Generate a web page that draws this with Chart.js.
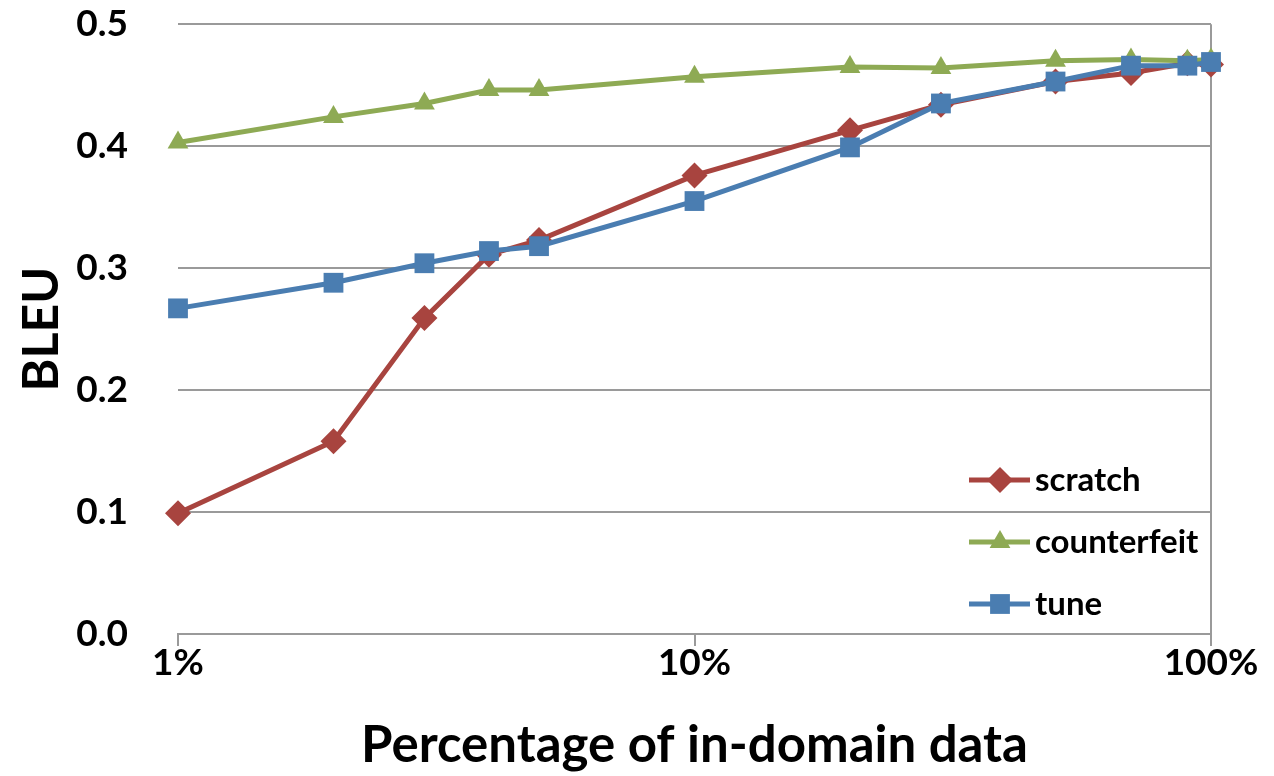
<!DOCTYPE html>
<html>
<head>
<meta charset="utf-8">
<script src="https://cdn.jsdelivr.net/npm/chart.js@4/dist/chart.umd.min.js"></script>
<style>
  html, body { margin: 0; padding: 0; background: #fff; }
  #wrap { width: 1274px; height: 776px; position: relative; }
</style>
</head>
<body>
<div id="wrap"><canvas id="myChart" width="1274" height="776"></canvas></div>
<script>
// percentage of in-domain data (x) and BLEU per series
var percents = [1, 2, 3, 4, 5, 10, 20, 30, 50, 70, 90, 100];
var scratch = [0.099, 0.158, 0.259, 0.311, 0.323, 0.376, 0.413, 0.434, 0.453, 0.460, 0.468, 0.467];
var counterfeit = [0.403, 0.424, 0.435, 0.446, 0.446, 0.457, 0.465, 0.464, 0.470, 0.471, 0.470, 0.471];
var tune = [0.267, 0.288, 0.304, 0.314, 0.318, 0.355, 0.399, 0.435, 0.453, 0.466, 0.466, 0.469];
var xTicks = [1, 10, 100];
var yTicks = [0, 0.1, 0.2, 0.3, 0.4, 0.5];

var FONT = 'Lato, "Open Sans", sans-serif';
var red = '#a8443f', green = '#8eaa54', blue = '#4a7db1';

function pts(ys) {
    return percents.map(function (p, i) { return { x: p, y: ys[i] }; });
}

// later series sit on top, like the original
var series = [
    { label: 'scratch', data: pts(scratch), color: red, style: 'rectRot', r: 13, order: 3 },
    { label: 'counterfeit', data: pts(counterfeit), color: green, style: 'triangle', r: 12, order: 2 },
    { label: 'tune', data: pts(tune), color: blue, style: 'rect', r: 14, order: 1 }
];

// legend drawn inside the plot area, bottom right
var insideLegend = {
    id: 'insideLegend',
    afterDraw: function (chart) {
        var c = chart.ctx;
        var rows = [480, 542, 604];
        c.save();
        chart.data.datasets.forEach(function (ds, i) {
            var y = rows[i];
            c.strokeStyle = ds.borderColor;
            c.lineWidth = 5;
            c.beginPath();
            c.moveTo(969, y);
            c.lineTo(1030, y);
            c.stroke();
            c.fillStyle = ds.backgroundColor;
            Chart.helpers.drawPoint(c, { pointStyle: ds.pointStyle, radius: ds.pointRadius, borderWidth: 0, rotation: 0 }, 1000, y);
            c.fillStyle = '#000';
            c.font = 'bold 33px ' + FONT;
            c.textBaseline = 'middle';
            c.textAlign = 'left';
            c.fillText(ds.label, 1035, y);
        });
        c.restore();
    }
};

var ctx = document.getElementById('myChart').getContext('2d');
var chart = new Chart(ctx, {
    type: 'line',
    data: {
        datasets: series.map(function (s) {
            return {
                label: s.label,
                data: s.data,
                borderColor: s.color,
                backgroundColor: s.color,
                borderWidth: 5,
                pointStyle: s.style,
                pointRadius: s.r,
                pointBorderWidth: 0,
                tension: 0,
                clip: false,
                order: s.order
            };
        })
    },
    options: {
        responsive: false,
        animation: false,
        layout: { padding: { top: 23, right: 63, left: 0, bottom: 0 } },
        plugins: { legend: { display: false }, tooltip: { enabled: false } },
        scales: {
            x: {
                type: 'logarithmic',
                min: 1,
                max: 100,
                afterBuildTicks: function (scale) {
                    scale.ticks = xTicks.map(function (v) { return { value: v }; });
                },
                afterFit: function (scale) { scale.height = 142; },
                ticks: {
                    autoSkip: false,
                    maxRotation: 0,
                    padding: 0,
                    color: '#000',
                    font: { family: FONT, size: 37, weight: 'bold', lineHeight: 0.9 },
                    callback: function (v) { return v + '%'; }
                },
                grid: {
                    color: function (c) { return c.tick && c.tick.value === 100 ? '#9a9a9a' : 'rgba(0,0,0,0)'; },
                    tickColor: '#9a9a9a',
                    tickLength: 12,
                    lineWidth: 2
                },
                border: { color: '#9a9a9a', width: 2 },
                title: {
                    display: true,
                    text: 'Percentage of in-domain data',
                    color: '#000',
                    font: { family: FONT, size: 51, weight: 'bold' },
                    padding: { top: 0, bottom: 0 }
                }
            },
            y: {
                min: 0,
                max: 0.5,
                afterBuildTicks: function (scale) {
                    scale.ticks = yTicks.map(function (v) { return { value: v }; });
                },
                afterFit: function (scale) { scale.width = 178; },
                ticks: {
                    padding: 2,
                    color: '#000',
                    font: { family: FONT, size: 37, weight: 'bold' },
                    callback: function (v) { return Number(v).toFixed(1); }
                },
                grid: { color: '#9a9a9a', lineWidth: 2, drawTicks: true, tickLength: 48, tickColor: 'rgba(0,0,0,0)' },
                border: { display: false },
                title: {
                    display: true,
                    text: 'BLEU',
                    color: '#000',
                    font: { family: FONT, size: 50, weight: 'bold' },
                    padding: { top: 12, bottom: 0 }
                }
            }
        }
    },
    plugins: [insideLegend]
});
</script>
</body>
</html>
